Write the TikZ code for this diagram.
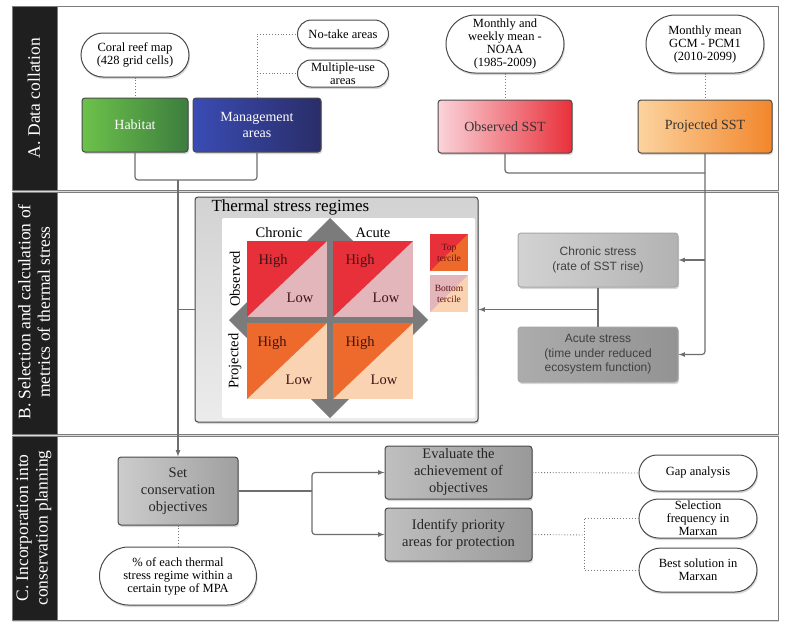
\documentclass[tikz,border=0pt]{standalone}
\usepackage{fontspec}
\setmainfont{Liberation Serif}
\setsansfont{Liberation Sans}
\usetikzlibrary{shapes.misc,shadows,positioning}

\definecolor{linegray}{HTML}{6E6E6E}
\definecolor{dotgray}{HTML}{7A7A7A}
\definecolor{bordergray}{HTML}{4A4A4A}
\definecolor{panelgray}{HTML}{7C7C7C}
\definecolor{bandblack}{HTML}{1F1F1F}
\definecolor{crossgray}{HTML}{7B7B7B}
\definecolor{highobs}{HTML}{E8303A}
\definecolor{lowobs}{HTML}{E2B6BB}
\definecolor{highproj}{HTML}{EE6A2C}
\definecolor{lowproj}{HTML}{F9D3B2}
\definecolor{cellink}{HTML}{3D1414}
\definecolor{hableft}{HTML}{6CC24A}
\definecolor{habright}{HTML}{3D7D3F}
\definecolor{manleft}{HTML}{3A4CB4}
\definecolor{manright}{HTML}{2A2D68}
\definecolor{obsleft}{HTML}{FAD3D9}
\definecolor{obsright}{HTML}{E9303A}
\definecolor{projleft}{HTML}{FCD39E}
\definecolor{projright}{HTML}{F2862C}

\tikzstyle{link}=[draw=linegray, line width=1.2pt, rounded corners=3pt]
\tikzstyle{arrow}=[link, -latex]
\tikzstyle{dots}=[draw=dotgray, line width=0.9pt, dotted]
\tikzstyle{shade}=[drop shadow={opacity=0.3, shadow xshift=1pt, shadow yshift=-2pt}]
\tikzstyle{bubble}=[rounded rectangle, shade, draw=bordergray, line width=1pt, fill=white, align=center, inner sep=1pt, font=\fontsize{12.5}{13}\selectfont]
\tikzstyle{box}=[rectangle, shade, rounded corners=3pt, draw=bordergray, line width=1pt, align=center, inner sep=1pt, font=\fontsize{14}{15.5}\selectfont]
\tikzstyle{graybox}=[box, text=black!85, font=\fontsize{14.5}{17}\selectfont]
\tikzstyle{stressbox}=[box, draw=gray!70, text=black!75, font=\sffamily\fontsize{12}{14.5}\selectfont]
\tikzstyle{panel}=[draw=panelgray, line width=1pt, fill=white, shade]
\tikzstyle{band}=[draw=panelgray, line width=1pt, fill=bandblack]
\tikzstyle{section}=[rotate=90, text=white, align=center, font=\fontsize{17.5}{19.5}\selectfont]
\tikzstyle{cell}=[text=cellink, font=\fontsize{14.5}{16}\selectfont]
\tikzstyle{legend}=[text=cellink!80!red, align=center, font=\fontsize{9.5}{11}\selectfont]

\begin{document}
\begin{tikzpicture}[x=1pt, y=-1pt]
  \useasboundingbox (0,0) rectangle (800,632);

  \draw[panel] (12,6) rectangle (778,190);
  \draw[band] (12,6) rectangle (57,190);
  \draw[panel] (12,192) rectangle (778,434);
  \draw[band] (12,192) rectangle (57,434);
  \draw[panel] (12,436) rectangle (778,620);
  \draw[band] (12,436) rectangle (57,620);

  \node[section] (secA) at (34,98) {A. Data collation};
  \node[section] (secB) at (34,312) {B. Selection and calculation of\\metrics of thermal stress};
  \node[section] (secC) at (34,528) {C. Incorporation into\\conservation planning};

  \node[bubble, minimum width=110pt, minimum height=44pt] (cor) at (135,55) {Coral reef map\\(428 grid cells)};
  \node[bubble, minimum width=93pt, minimum height=28pt] (nota) at (343,34) {No-take areas};
  \node[bubble, minimum width=93pt, minimum height=27pt] (mult) at (343,73.5) {Multiple-use\\areas};
  \node[bubble, minimum width=120pt, minimum height=58pt] (noaa) at (505,44) {Monthly and\\weekly mean -\\NOAA\\(1985-2009)};
  \node[bubble, minimum width=120pt, minimum height=58pt] (gcm) at (705,44) {Monthly mean\\GCM - PCM1\\(2010-2099)};

  \node[box, left color=hableft, right color=habright, text=white, minimum width=106pt, minimum height=54pt] (hab) at (135,125) {Habitat};
  \node[box, left color=manleft, right color=manright, text=white, minimum width=128pt, minimum height=54pt] (man) at (257,125) {Management\\areas};
  \node[box, left color=obsleft, right color=obsright, text=black!80, minimum width=134pt, minimum height=53pt] (obs) at (505,126.5) {Observed SST};
  \node[box, left color=projleft, right color=projright, text=black!80, minimum width=134pt, minimum height=53pt] (proj) at (705,126.5) {Projected SST};

  \node[stressbox, left color=gray!35, right color=gray!60, minimum width=160pt, minimum height=54pt] (chr) at (598,260) {Chronic stress\\(rate of SST rise)};
  \node[stressbox, left color=gray!65, right color=gray!85, minimum width=160pt, minimum height=55pt] (acu) at (598,354.5) {Acute stress\\(time under reduced\\ecosystem function)};

  \node[box, top color=gray!35, bottom color=gray!15, minimum width=283pt, minimum height=225pt] (tsr) at (336.5,309.5) {};
  \fill[white, rounded corners=2pt] (222,218) rectangle (475,418);
  \node[anchor=west, font=\fontsize{17}{18}\selectfont] (tsrt) at (208,207) {Thermal stress regimes};

  \fill[crossgray] (327,235) rectangle (333,405);
  \fill[crossgray] (236,317) rectangle (421,323);
  \fill[crossgray] (330,218) -- (355,243) -- (305,243) -- cycle;
  \fill[crossgray] (330,418) -- (355,393) -- (305,393) -- cycle;
  \fill[crossgray] (229,320) -- (254,295) -- (254,345) -- cycle;
  \fill[crossgray] (428,320) -- (403,295) -- (403,345) -- cycle;

  \fill[lowobs] (247,241) rectangle (327,317);
  \fill[highobs] (247,241) -- (327,241) -- (247,317) -- cycle;
  \fill[lowobs] (333,241) rectangle (413,317);
  \fill[highobs] (333,241) -- (413,241) -- (333,317) -- cycle;
  \fill[lowproj] (247,323) rectangle (327,399);
  \fill[highproj] (247,323) -- (327,323) -- (247,399) -- cycle;
  \fill[lowproj] (333,323) rectangle (413,399);
  \fill[highproj] (333,323) -- (413,323) -- (333,399) -- cycle;

  \node[cell] (h1) at (273,261) {High};
  \node[cell] (l1) at (300,298) {Low};
  \node[cell] (h2) at (360,261) {High};
  \node[cell] (l2) at (386,298) {Low};
  \node[cell] (h3) at (272,343) {High};
  \node[cell] (l3) at (299,380) {Low};
  \node[cell] (h4) at (360,343) {High};
  \node[cell] (l4) at (384,380) {Low};

  \node[cell, text=black] (chron) at (279,233) {Chronic};
  \node[cell, text=black] (acut) at (373,233) {Acute};
  \node[cell, text=black, rotate=90] (obsv) at (235,279) {Observed};
  \node[cell, text=black, rotate=90] (prjt) at (235,361) {Projected};

  \fill[highproj] (430,234) rectangle (468,271);
  \fill[highobs] (430,234) -- (468,234) -- (430,271) -- cycle;
  \fill[lowproj] (430,275) rectangle (468,312);
  \fill[lowobs] (430,275) -- (468,275) -- (430,312) -- cycle;
  \node[legend] (top) at (449,252.5) {Top\\tercile};
  \node[legend] (bot) at (449,293.5) {Bottom\\tercile};

  \node[graybox, left color=gray!40, right color=gray!75, minimum width=120pt, minimum height=68pt] (obj) at (178,491) {Set\\conservation\\objectives};
  \node[bubble, minimum width=159pt, minimum height=58pt] (pct) at (178,576) {\% of each thermal\\stress regime within a\\certain type of MPA};
  \node[graybox, left color=gray!50, right color=gray!80, minimum width=147pt, minimum height=53pt] (eva) at (458.5,472.5) {Evaluate the\\achievement of\\objectives};
  \node[graybox, left color=gray!50, right color=gray!80, minimum width=147pt, minimum height=53pt] (ide) at (458.5,534.5) {Identify priority\\areas for protection};
  \node[bubble, minimum width=120pt, minimum height=36pt] (gap) at (698,473) {Gap analysis};
  \node[bubble, minimum width=120pt, minimum height=39pt] (sel) at (698,518.5) {Selection\\frequency in\\Marxan};
  \node[bubble, minimum width=120pt, minimum height=44pt] (best) at (698,570) {Best solution in\\Marxan};

  \coordinate (j1) at (178,180);
  \coordinate (j2) at (705,173);
  \coordinate (j3) at (598,309.5);
  \coordinate (j4) at (312,491);
  \coordinate (j5) at (584,535);

  \draw[dots] (cor.south) -- (hab.north);
  \draw[dots] (man.north) |- (nota.west);
  \draw[dots] (man.north |- mult.west) -- (mult.west);
  \draw[dots] (noaa.south) -- (obs.north);
  \draw[dots] (gcm.south) -- (proj.north);
  \draw[dots] (obj.south) -- (pct.north);
  \draw[dots] (eva.east) -- (gap.west);
  \draw[dots] (ide.east) -- (j5);
  \draw[dots] (sel.west) -| (j5) |- (best.west);

  \draw[link] (hab.south) |- (j1) -| (man.south);
  \draw[arrow] (j1) -- (obj.north);
  \draw[link] (tsr.west) -- (tsr.west -| j1);
  \draw[link] (obs.south) |- (j2);
  \draw[arrow] (proj.south) |- (acu.east);
  \draw[arrow] (chr.east -| proj.south) -- (chr.east);
  \draw[link] (chr.south) -- (acu.north);
  \draw[arrow] (j3) -- (tsr.east);
  \draw[link] (obj.east) -- (j4);
  \draw[arrow] (j4) |- (eva.west);
  \draw[arrow] (j4) |- (ide.west);
\end{tikzpicture}
\end{document}
